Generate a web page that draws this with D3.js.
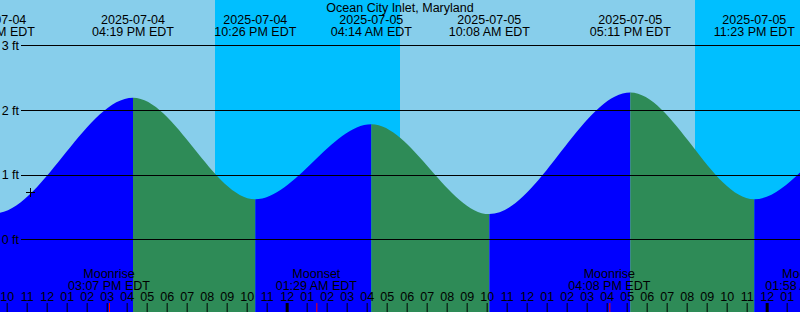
<!DOCTYPE html>
<html><head><meta charset="utf-8">
<script src="https://cdn.jsdelivr.net/npm/d3@7"></script>
<style>
body{margin:0;background:#fff}
svg{display:block}
text{font-family:"Liberation Sans",Arial,sans-serif;font-size:12.5px;fill:#000}
</style>
</head><body>
<svg id="c" width="800" height="312"></svg>
<script>
// ---- data ----
const title = "Ocean City Inlet, Maryland";
const tideTimes = ["2025-07-04 03:05","2025-07-04 09:23","2025-07-04 16:19","2025-07-04 22:26","2025-07-05 04:14","2025-07-05 10:08","2025-07-05 17:11","2025-07-05 23:23","2025-07-06 05:15","2025-07-06 11:20"];
const tideHeights = [1.85,0.40,2.19,0.62,1.78,0.39,2.27,0.62,1.85,0.45];
const sunsetTimes = ["2025-07-04 20:25","2025-07-05 20:25"];
const sunriseTimes = ["2025-07-05 05:40","2025-07-06 05:41"];
const moonTimes = ["2025-07-04 15:07","2025-07-05 01:29","2025-07-05 16:08","2025-07-06 01:58"];
const moonEvents = ["Moonrise","Moonset","Moonrise","Moonset"];
const heightTicks = [0,1,2,3];
const timeDomain = ["2025-07-04 09:40","2025-07-06 01:40"];
const markTime = "2025-07-04 11:10";
const markHeight = 0.73;

// ---- setup ----
const W = 800, H = 312;
const parse = d3.timeParse("%Y-%m-%d %H:%M");
const svg = d3.select("#c");
const x = d3.scaleTime().domain(timeDomain.map(parse)).range([0, W]);
const y = d3.scaleLinear().domain([0, 3]).range([239.3, 45.3]);

const tides = tideTimes.map((t, i) => ({t: parse(t), h: tideHeights[i]}));

// background (day)
svg.append("rect").attr("x",0).attr("y",0).attr("width",W).attr("height",H).attr("fill","#87CEEB");
// night
svg.selectAll("rect.night").data(sunsetTimes.map((s,i)=>({a:parse(s), b:parse(sunriseTimes[i])})))
  .join("rect").attr("class","night")
  .attr("x", d=>x(d.a)).attr("y",0)
  .attr("width", d=>x(d.b)-x(d.a)).attr("height",H)
  .attr("fill","#00BFFF");

// tide area
const area = d3.area().x(d=>x(d.t)).y0(H).y1(d=>y(d.h)).curve(d3.curveMonotoneX);
svg.append("clipPath").attr("id","tide").append("path").attr("d", area(tides));
const segs = d3.pairs(tides);
svg.append("g").attr("clip-path","url(#tide)")
  .selectAll("rect").data(segs).join("rect")
  .attr("x", d=>x(d[0].t)).attr("y",0)
  .attr("width", d=>x(d[1].t)-x(d[0].t)).attr("height",H)
  .attr("fill", d=> d[1].h > d[0].h ? "#0000FF" : "#2E8B57");

// gridlines + labels
const grid = svg.append("g");
grid.selectAll("line").data(heightTicks).join("line")
  .attr("x1",21).attr("x2",W)
  .attr("y1",d=>Math.round(y(d))+0.5).attr("y2",d=>Math.round(y(d))+0.5)
  .attr("stroke","#000").attr("stroke-width",1);
grid.selectAll("text").data(heightTicks).join("text")
  .attr("x",19).attr("y",d=>y(d)+4.6).attr("text-anchor","end")
  .text(d=>d+" ft");

// title
svg.append("text").attr("x",W/2).attr("y",11.5).attr("text-anchor","middle").text(title);

// extreme labels
const fDate = d3.timeFormat("%Y-%m-%d"), fTime = d3.timeFormat("%I:%M %p EDT");
const lab = svg.append("g").selectAll("g").data(tides).join("g")
  .attr("transform", d=>`translate(${x(d.t)},0)`);
lab.append("text").attr("y",24).attr("text-anchor","middle").text(d=>fDate(d.t));
lab.append("text").attr("y",36).attr("text-anchor","middle").text(d=>fTime(d.t));

// mark
const mx = x(parse(markTime)), my = y(markHeight);
svg.append("path").attr("d",`M${mx-4},${my}H${mx+5}M${mx+0.5},${my-4}V${my+4.5}`)
  .attr("stroke","#000").attr("stroke-width",1).attr("shape-rendering","crispEdges");

// hour axis
const axis = d3.axisTop(x).ticks(d3.timeHour.every(1)).tickSize(9).tickPadding(2)
  .tickFormat(d3.timeFormat("%I"));
const ag = svg.append("g").attr("transform",`translate(0,${H})`).call(axis);
ag.select(".domain").remove();
ag.attr("font-size",null).attr("font-family",null);
ag.selectAll("text").attr("fill","#000");
ag.selectAll("line").attr("stroke","#000")
  .attr("stroke-width", d=> d.getHours()===0 ? 3 : 1);

// moon events
const moons = moonTimes.map((t,i)=>({t:parse(t), e:moonEvents[i]}));
const mg = svg.append("g").selectAll("g").data(moons).join("g")
  .attr("transform", d=>`translate(${x(d.t)},0)`);
mg.append("line").attr("x1",0.5).attr("x2",0.5).attr("y1",H-9).attr("y2",H)
  .attr("stroke","#FF0000").attr("stroke-width",1);
mg.append("text").attr("y",278).attr("text-anchor","middle").text(d=>d.e);
mg.append("text").attr("y",290).attr("text-anchor","middle").text(d=>fTime(d.t));
</script>
</body></html>
